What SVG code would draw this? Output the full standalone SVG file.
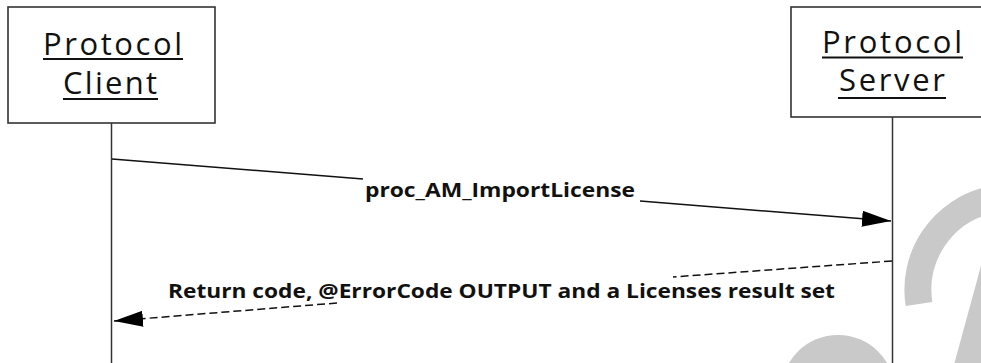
<svg xmlns="http://www.w3.org/2000/svg" width="981" height="363" viewBox="0 0 981 363">
<style>
.box{fill:#fff;stroke:#333;stroke-width:1.6}
.life{stroke:#333;stroke-width:1.5;fill:none}
.ttl{font-family:"Open Sans","Liberation Sans",sans-serif;font-size:31px;fill:#111}
.ul{stroke:#111;stroke-width:2}
.msg{stroke:#111;stroke-width:1.5;fill:none}
.dash{stroke-dasharray:8 4}
.lbl{font-family:"Open Sans","Liberation Sans",sans-serif;font-weight:bold;font-size:20px;fill:#111}
.wm{fill:none;stroke:#c9c9c9;stroke-width:27}
</style>
<defs>
<marker id="ah" markerUnits="userSpaceOnUse" markerWidth="30" markerHeight="17" refX="29" refY="8" orient="auto">
<path d="M0,0 L29,8 L0,16 z" fill="#000"/>
</marker>
</defs>
<rect width="981" height="363" fill="#fff"/>
<g id="watermark">
<path class="wm" d="M919,304 A92,92 0 0 1 990,200"/>
<path class="wm" d="M966,372 L996,262"/>
<circle cx="838" cy="392" r="57" fill="#c9c9c9"/>
</g>
<g id="client">
<rect class="box" x="8" y="7" width="207" height="116"/>
<text class="ttl" x="43" y="55" textLength="139" lengthAdjust="spacing">Protocol</text>
<line class="ul" x1="43" y1="59" x2="183" y2="59"/>
<text class="ttl" x="63" y="94" textLength="94" lengthAdjust="spacing">Client</text>
<line class="ul" x1="63" y1="99" x2="158" y2="99"/>
<line class="life" x1="111.5" y1="123" x2="111.5" y2="363"/>
</g>
<g id="server">
<rect class="box" x="791" y="7" width="200" height="110"/>
<text class="ttl" x="822" y="53" textLength="140" lengthAdjust="spacing">Protocol</text>
<line class="ul" x1="822" y1="57.5" x2="963" y2="57.5"/>
<text class="ttl" x="839" y="91" textLength="106" lengthAdjust="spacing">Server</text>
<line class="ul" x1="838" y1="98" x2="946" y2="98"/>
<line class="life" x1="892.5" y1="117" x2="892.5" y2="363"/>
</g>
<g id="connectors">
<path class="msg" d="M112,159 L363,179 M640,201 L891,221" marker-end="url(#ah)"/>
<text class="lbl" x="365" y="197" textLength="270" lengthAdjust="spacingAndGlyphs">proc_AM_ImportLicense</text>
<path class="msg dash" d="M892,261 L673,277 M337,303 L114,321" marker-end="url(#ah)"/>
<text class="lbl" x="168" y="298" textLength="667" lengthAdjust="spacingAndGlyphs">Return code, @ErrorCode OUTPUT and a Licenses result set</text>
</g>
</svg>
